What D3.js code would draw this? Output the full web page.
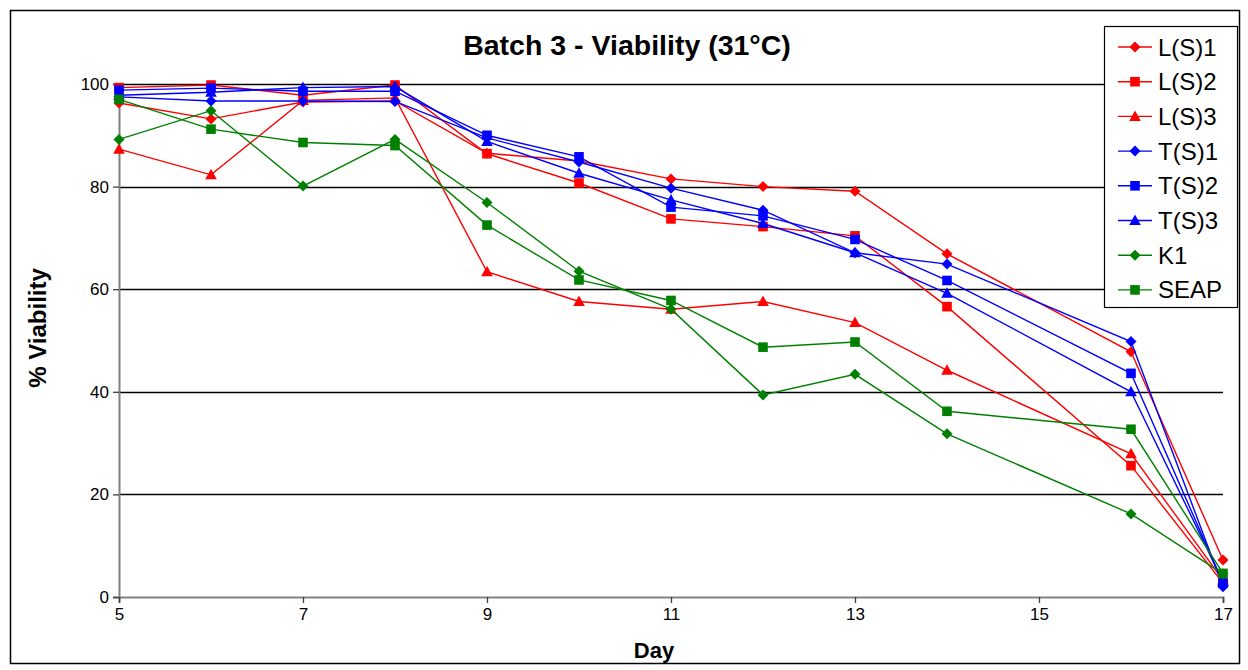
<!DOCTYPE html>
<html>
<head>
<meta charset="utf-8">
<script src="https://cdn.jsdelivr.net/npm/d3@7"></script>
<style>
  html, body { margin: 0; padding: 0; background: #fff; }
  svg { display: block; font-family: "Liberation Sans", Arial, sans-serif; }
</style>
</head>
<body>
<svg id="chart" width="1248" height="670"></svg>
<script>
// Sampling days and % viability for each culture
const days = [5, 6, 7, 8, 9, 10, 11, 12, 13, 14, 16, 17];

const LS1  = [96.3, 93.2, 96.5, 96.7, 86.5, 85.0, 81.5, 80.0, 79.1, 66.9, 47.8, 7.2];
const LS2  = [99.3, 99.8, 97.8, 99.8, 86.4, 80.7, 73.7, 72.2, 70.4, 56.6, 25.6, 2.7];
const LS3  = [87.3, 82.3, 96.8, 97.3, 63.4, 57.6, 56.1, 57.6, 53.5, 44.2, 27.9, 3.3];
const TS1  = [97.5, 96.7, 96.7, 96.6, 89.5, 84.8, 79.7, 75.4, 67.1, 64.9, 49.8, 2.0];
const TS2  = [98.8, 99.2, 98.6, 98.6, 90.0, 85.8, 76.0, 74.3, 69.7, 61.7, 43.6, 2.7];
const TS3  = [97.8, 98.4, 99.3, 99.5, 88.8, 82.6, 77.4, 72.8, 67.1, 59.2, 40.0, 3.0];
const K1   = [89.2, 94.8, 80.1, 89.2, 76.9, 63.5, 56.1, 39.4, 43.4, 31.8, 16.2, 4.5];
const SEAP = [97.0, 91.2, 88.6, 88.0, 72.5, 61.8, 57.8, 48.7, 49.7, 36.2, 32.7, 4.6];

const seriesNames = ["L(S)1", "L(S)2", "L(S)3", "T(S)1", "T(S)2", "T(S)3", "K1", "SEAP"];
const seriesValues = [LS1, LS2, LS3, TS1, TS2, TS3, K1, SEAP];
const seriesColors = ["#FF0000", "#FF0000", "#FF0000", "#0000FF", "#0000FF", "#0000FF", "#008000", "#008000"];
const seriesShapes = ["diamond", "square", "triangle", "diamond", "square", "triangle", "diamond", "square"];

const xTicks = [5, 7, 9, 11, 13, 15, 17];
const yTicks = [0, 20, 40, 60, 80, 100];

const titleText = "Batch 3 - Viability (31°C)";
const xTitle = "Day";
const yTitle = "% Viability";

const svg = d3.select("#chart");

// outer chart border
svg.append("rect")
  .attr("x", 10.5).attr("y", 10.5)
  .attr("width", 1229).attr("height", 653)
  .attr("fill", "#fff").attr("stroke", "#000").attr("stroke-width", 1.5);

const x = d3.scaleLinear().domain([5, 17]).range([119, 1223]);
const y = d3.scaleLinear().domain([0, 100]).range([597, 84]);

// horizontal gridlines
svg.append("g")
  .selectAll("line")
  .data(yTicks.filter(d => d > 0))
  .join("line")
  .attr("x1", x(5)).attr("x2", x(17))
  .attr("y1", d => Math.round(y(d)) + 0.5).attr("y2", d => Math.round(y(d)) + 0.5)
  .attr("stroke", "#000").attr("stroke-width", 1.3);

// y axis
const yAxis = svg.append("g")
  .attr("transform", `translate(${x(5)},0)`)
  .call(d3.axisLeft(y).tickValues(yTicks).tickSize(6).tickPadding(4));
yAxis.select(".domain").attr("stroke", "#808080").attr("stroke-width", 2);
yAxis.selectAll(".tick line").attr("stroke", "#404040").attr("stroke-width", 1.3);
yAxis.selectAll(".tick text").attr("font-size", 17).attr("fill", "#000")
  .attr("font-family", "Liberation Sans, Arial, sans-serif");

// x axis
const xAxis = svg.append("g")
  .attr("transform", `translate(0,${y(0)})`)
  .call(d3.axisBottom(x).tickValues(xTicks).tickSize(6).tickPadding(5));
xAxis.select(".domain").attr("stroke", "#808080").attr("stroke-width", 2);
xAxis.selectAll(".tick line").attr("stroke", "#404040").attr("stroke-width", 1.3);
xAxis.selectAll(".tick text").attr("font-size", 17).attr("fill", "#000")
  .attr("font-family", "Liberation Sans, Arial, sans-serif");

// titles
svg.append("text")
  .attr("x", 627).attr("y", 55)
  .attr("text-anchor", "middle")
  .attr("font-size", 28.5).attr("font-weight", "bold")
  .text(titleText);

svg.append("text")
  .attr("x", 654).attr("y", 658)
  .attr("text-anchor", "middle")
  .attr("font-size", 22).attr("font-weight", "bold")
  .text(xTitle);

svg.append("text")
  .attr("transform", "translate(46,328) rotate(-90)")
  .attr("text-anchor", "middle")
  .attr("font-size", 24).attr("font-weight", "bold")
  .text(yTitle);

// marker shapes
function markerPath(shape) {
  if (shape === "diamond") return "M0,-5.5L5.5,0L0,5.5L-5.5,0Z";
  if (shape === "square") return "M-4.8,-4.8H4.8V4.8H-4.8Z";
  return "M0,-6L5.8,4.5H-5.8Z";
}

const line = d3.line()
  .x((d, i) => x(days[i]))
  .y(d => y(d));

const plot = svg.append("g");
seriesValues.forEach((vals, s) => {
  const g = plot.append("g");
  g.append("path")
    .attr("d", line(vals))
    .attr("fill", "none")
    .attr("stroke", seriesColors[s])
    .attr("stroke-width", 1.4);
  g.selectAll("path.mk")
    .data(vals)
    .join("path")
    .attr("class", "mk")
    .attr("transform", (d, i) => `translate(${x(days[i])},${y(d)})`)
    .attr("d", markerPath(seriesShapes[s]))
    .attr("fill", seriesColors[s]);
});

// legend
const legend = svg.append("g");
legend.append("rect")
  .attr("x", 1104.5).attr("y", 26.5)
  .attr("width", 133).attr("height", 281)
  .attr("fill", "#fff").attr("stroke", "#000").attr("stroke-width", 1.2);

seriesNames.forEach((name, i) => {
  const cy = 47 + i * 34.7;
  legend.append("line")
    .attr("x1", 1118).attr("x2", 1152)
    .attr("y1", cy).attr("y2", cy)
    .attr("stroke", seriesColors[i]).attr("stroke-width", 1.4);
  legend.append("path")
    .attr("transform", `translate(1135,${cy})`)
    .attr("d", markerPath(seriesShapes[i]))
    .attr("fill", seriesColors[i]);
  legend.append("text")
    .attr("x", 1158).attr("y", cy + 8.5)
    .attr("font-size", 24)
    .text(name);
});
</script>
</body>
</html>
